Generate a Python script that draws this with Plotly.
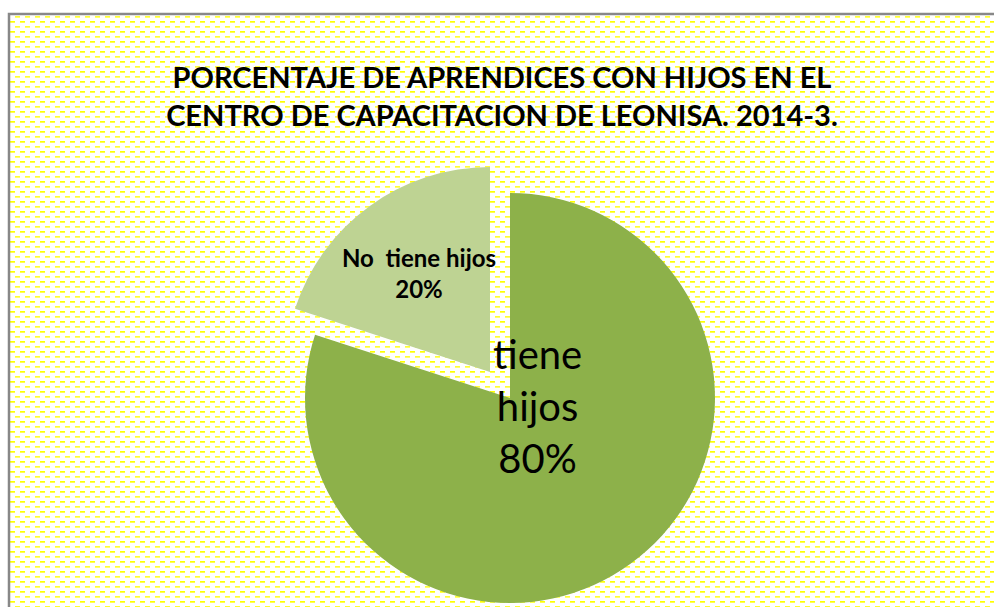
import base64

import plotly.graph_objects as go

# data
labels = ["tiene hijos", "No  tiene hijos"]
values = [80, 20]
title_lines = [
    "PORCENTAJE DE APRENDICES CON HIJOS EN EL",
    "CENTRO DE CAPACITACION DE LEONISA. 2014-3.",
]

W, H = 994, 607
GREEN = "#8DB14A"
LIGHT = "#BED393"
CLEAR = "rgba(0,0,0,0)"

# dashed yellow background, drawn as an svg image behind the chart
svg = f"""<svg xmlns="http://www.w3.org/2000/svg" width="{W}" height="{H}">
<defs><pattern id="d" width="10" height="10" patternUnits="userSpaceOnUse">
<rect x="0" y="1" width="5" height="1.7" fill="#FFFF00"/>
<rect x="5" y="6" width="5" height="1.7" fill="#FFFF33"/>
</pattern></defs>
<rect x="10" y="15" width="{W}" height="{H}" fill="url(#d)"/>
</svg>"""
bg = "data:image/svg+xml;base64," + base64.b64encode(svg.encode()).decode()


def px_dom(x0, x1, y0, y1):
    # pixel box -> paper domain
    return dict(x=[x0 / W, x1 / W], y=[1 - y1 / H, 1 - y0 / H])


R = 205
cx, cy = 510, 398
# exploded slice offset (up-left)
ox, oy = -20, -26

fig = go.Figure()
fig.add_trace(go.Pie(
    labels=labels, values=values, sort=False, direction="clockwise", rotation=0,
    marker=dict(colors=[GREEN, CLEAR], line=dict(width=0)),
    textinfo="none", hoverinfo="label+percent", showlegend=False,
    domain=px_dom(cx - R, cx + R, cy - R, cy + R),
))
fig.add_trace(go.Pie(
    labels=labels, values=values, sort=False, direction="clockwise", rotation=0,
    marker=dict(colors=[CLEAR, LIGHT], line=dict(width=0)),
    textinfo="none", hoverinfo="label+percent", showlegend=False,
    domain=px_dom(cx + ox - R, cx + ox + R, cy + oy - R, cy + oy + R),
))

annotations = [
    dict(text=labels[0].replace(" ", "<br>") + f"<br>{values[0]}%",
         x=537 / W, y=1 - 406 / H, xref="paper", yref="paper", showarrow=False,
         xanchor="center", yanchor="middle",
         font=dict(family="Lato", size=40, color="black"), align="center"),
    dict(text=f"<b>{labels[1]}<br>{values[1]}%</b>",
         x=419 / W, y=1 - 273 / H, xref="paper", yref="paper", showarrow=False,
         xanchor="center", yanchor="middle",
         font=dict(family="Lato", size=24, color="black"), align="center"),
]

fig.update_layout(
    width=W, height=H,
    margin=dict(l=0, r=0, t=0, b=0),
    paper_bgcolor="white",
    title=dict(text="<b>" + "<br>".join(title_lines) + "</b>",
               x=502 / W, xanchor="center", y=1 - 88 / H, yanchor="middle",
               font=dict(family="Lato", size=29, color="black")),
    annotations=annotations,
    images=[dict(source=bg, xref="paper", yref="paper", x=0, y=1, sizex=1, sizey=1,
                 sizing="stretch", layer="below", xanchor="left", yanchor="top")],
    shapes=[dict(type="rect", xref="paper", yref="paper",
                 x0=9 / W, x1=1.02, y0=-0.02, y1=1 - 14 / H,
                 line=dict(color="#888888", width=2.5), fillcolor=CLEAR, layer="above")],
)

# drop the default page margin so the chart sits at the window origin
fig.write_html("out.html", config={"displayModeBar": False},
               post_script="document.body.style.margin='0';")
